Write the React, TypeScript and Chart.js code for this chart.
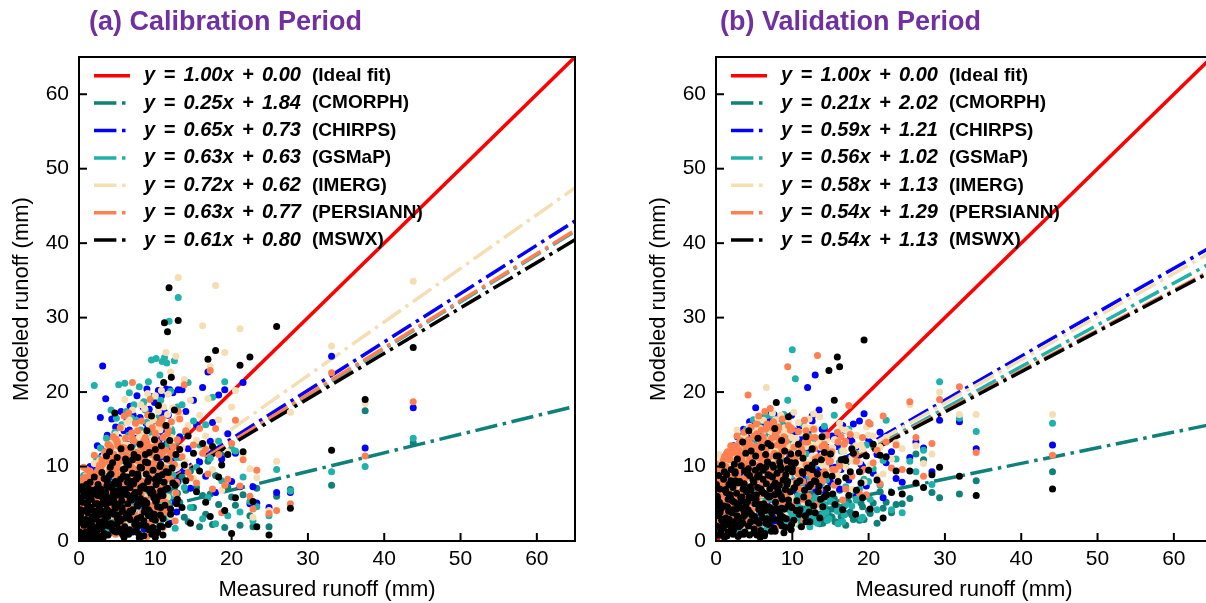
import React, { useEffect, useRef } from "react";
import { Chart, registerables } from "chart.js";

Chart.register(...registerables);

const FONT = '"Liberation Sans", Arial, Helvetica, sans-serif';

const productNames = ["CMORPH", "CHIRPS", "GSMaP", "IMERG", "PERSIANN", "MSWX"];
const productColors = ["#0F807A", "#0000FF", "#20B2AA", "#F5DEB3", "#FF7F50", "#000000"];
const idealColor = "#FF0000";
const titleColor = "#7030A0";
const tickValues = [0, 10, 20, 30, 40, 50, 60];
const axisMax = 65;

const calSlopes = [0.25, 0.65, 0.63, 0.72, 0.63, 0.61];
const calIntercepts = [1.84, 0.73, 0.63, 0.62, 0.77, 0.8];
const valSlopes = [0.21, 0.59, 0.56, 0.58, 0.54, 0.54];
const valIntercepts = [2.02, 1.21, 1.02, 1.13, 1.29, 1.13];

// ---------------- Calibration period ----------------
const calMeasured = [
  0.55, 1.05, 1.55, 2.05, 2.55, 3.05, 3.55, 4.05, 4.55, 5.05,
  5.55, 6.05, 6.55, 7.05, 7.55, 8.05, 8.55, 9.05, 9.55, 10.05,
  0.3, 0.8, 1.3, 1.8, 2.3, 2.8, 3.3, 3.8, 4.3, 4.8,
  5.3, 5.7, 6.1, 6.5, 6.9, 7.3, 7.7, 8.1, 8.5, 8.9,
  9.1, 9.4, 9.7, 10.0, 10.3, 10.6, 11.0, 11.4, 12.0, 12.6,
  0.1, 0.2, 0.3, 0.4, 0.5, 0.6, 0.7, 0.8, 0.9, 1.0,
  1.1, 1.2, 1.3, 1.4, 1.5, 1.6, 1.7, 1.8, 1.9, 2.0,
  2.1, 2.2, 2.3, 2.4, 2.5, 2.6, 2.7, 2.8, 2.9, 3.0,
  3.1, 3.2, 3.3, 3.4, 3.5, 3.6, 3.7, 3.8, 3.9, 4.0,
  4.1, 4.2, 4.3, 4.4, 4.5, 4.6, 4.7, 4.8, 4.9, 5.0,
  5.2, 5.4, 5.5, 5.6, 5.8, 5.9, 6.0, 6.1, 6.2, 6.3,
  6.4, 6.5, 6.6, 6.7, 6.8, 6.9, 7.0, 7.1, 7.2, 7.4,
  7.5, 7.6, 7.7, 7.8, 7.9, 8.0, 8.1, 8.2, 8.4, 8.5,
  8.6, 8.7, 8.8, 8.9, 9.0, 9.1, 9.2, 9.3, 9.5, 9.6,
  9.7, 9.8, 9.9, 10.0, 10.1, 10.2, 10.3, 10.4, 10.5, 10.6,
  10.7, 10.8, 10.9, 11.0, 11.1, 11.2, 11.3, 11.4, 11.5, 11.6,
  11.7, 11.8, 11.9, 12.0, 12.1, 12.3, 12.5, 12.7, 12.9, 13.0,
  13.2, 13.5, 13.8, 14.0, 14.3, 14.6, 15.0, 15.4, 15.8, 16.2,
  16.6, 16.9, 17.2, 17.5, 17.9, 18.3, 18.7, 19.1, 19.5, 20.0,
  20.5, 21.1, 21.5, 22.4, 22.8, 23.3, 24.9, 25.9, 27.7, 33.1, 37.5, 43.8,
  0.15, 0.65, 1.15, 1.65, 2.15, 2.65, 3.15, 3.65, 4.15, 4.65,
  5.15, 5.65, 6.15, 6.65, 7.15, 7.65, 8.15, 8.65, 9.15, 9.65,
  10.15, 10.65, 11.15, 0.35, 0.95, 1.45, 2.45, 3.45, 4.45, 5.45,
  6.35, 7.35, 8.35, 9.35, 10.35, 1.0, 2.0, 3.0, 4.0, 5.0,
  6.0, 7.0, 8.0, 9.0, 10.0, 11.0, 0.7, 1.7, 2.7, 3.7,
  4.7, 5.7, 6.7, 7.7, 8.7, 9.7, 10.7, 11.7, 12.2, 12.8,
  0.05, 0.4, 0.75, 1.1, 1.45, 1.8, 2.15, 2.5, 2.85, 3.2,
  3.55, 3.9, 4.25, 4.6, 4.95, 5.3, 5.65, 6.0, 6.35, 6.7,
  7.05, 7.4, 7.75, 8.1, 8.45, 8.8, 9.15, 9.5, 9.85, 10.2,
  10.55, 10.9, 11.25, 11.6, 0.2, 0.9, 1.6, 2.3, 3.0, 3.7,
  4.4, 5.1, 5.8, 6.5, 7.2, 7.9, 8.6, 9.3, 10.0, 10.7,
  0.6, 1.3, 2.0, 2.7, 3.4, 4.1, 4.8, 5.5, 6.2, 6.9,
];
const calMSWX = [
  2.8, 6.4, 4.5, 3.2, 1.9, 6.3, 4.9, 2.3, 7.7, 3.0,
  6.0, 3.1, 8.0, 4.2, 1.8, 5.7, 3.9, 6.9, 0.9, 5.3,
  4.0, 0.8, 5.9, 2.0, 0.4, 4.9, 1.0, 3.3, 5.5, 4.4,
  1.6, 4.0, 6.9, 0.9, 5.5, 2.2, 4.9, 7.2, 2.7, 5.1,
  3.4, 6.4, 1.8, 8.3, 4.6, 2.0, 6.1, 9.3, 4.3, 7.5,
  1.2, 3.5, 0.5, 5.2, 2.4, 6.0, 1.0, 4.1, 2.9, 6.6,
  0.4, 7.1, 2.2, 4.6, 0.9, 5.6, 3.2, 6.3, 1.6, 4.0,
  3.0, 6.8, 1.3, 5.0, 7.6, 2.6, 4.3, 0.6, 6.0, 3.6,
  1.9, 5.5, 8.4, 2.9, 6.5, 11.4, 4.2, 0.8, 7.3, 12.0,
  5.2, 9.0, 2.3, 10.5, 6.8, 3.6, 17.2, 8.0, 1.2, 11.2,
  7.6, 2.7, 12.4, 5.4, 9.6, 0.5, 6.3, 11.0, 3.6, 8.6,
  5.0, 10.2, 1.5, 7.2, 12.6, 3.9, 9.1, 6.1, 11.6, 2.5,
  8.3, 4.7, 11.2, 1.0, 6.6, 13.0, 3.2, 9.8, 7.4, 0.7,
  5.4, 10.6, 2.0, 14.8, 8.0, 4.2, 11.9, 6.8, 16.8, 3.0,
  9.5, 5.8, 13.6, 2.8, 7.6, 11.2, 1.2, 18.2, 6.0, 10.0,
  4.5, 12.8, 8.9, 0.8, 21.3, 29.3, 6.9, 15.5, 11.0, 28.1,
  9.2, 34.0, 13.5, 3.6, 22.0, 7.8, 17.6, 11.6, 5.6, 29.6,
  12.3, 4.5, 10.2, 8.1, 14.1, 2.4, 11.8, 6.6, 9.4, 13.1,
  5.2, 24.4, 3.3, 12.7, 25.6, 8.6, 10.2, 4.1, 11.6, 1.0,
  5.8, 23.6, 12.0, 24.7, 5.3, 1.9, 0.8, 28.8, 4.4, 12.2, 19.0, 26.0,
  5.6, 2.1, 3.8, 6.8, 0.9, 4.5, 2.6, 7.4, 3.9, 1.3,
  3.5, 6.9, 1.2, 4.0, 7.7, 3.0, 0.6, 4.4, 8.4, 3.1,
  5.4, 3.5, 7.9, 6.9, 5.1, 1.5, 6.1, 4.0, 6.2, 8.3,
  6.2, 6.5, 5.3, 1.6, 8.7, 7.6, 8.6, 9.2, 8.8, 6.7,
  9.7, 10.9, 9.9, 10.5, 12.3, 3.0, 0.2, 2.9, 1.6, 5.8,
  4.7, 0.9, 2.9, 9.0, 11.6, 6.5, 10.3, 2.2, 9.8, 5.0,
  3.0, 7.3, 2.5, 4.9, 7.9, 0.6, 5.0, 3.5, 7.0, 0.5,
  5.9, 2.0, 7.2, 5.3, 2.2, 6.6, 4.5, 1.9, 7.9, 5.7,
  1.2, 5.8, 8.6, 2.1, 5.0, 9.0, 1.5, 6.9, 3.6, 1.1,
  8.1, 1.9, 4.8, 7.1, 4.2, 1.2, 2.4, 7.0, 3.9, 8.0,
  1.5, 4.9, 8.7, 3.3, 6.0, 0.4, 7.1, 3.9, 0.5, 6.7,
  6.2, 5.5, 1.1, 4.6, 2.7, 9.9, 6.1, 2.9, 10.6, 8.0,
];
const calPERSIANN = [
  4.1, 2.0, 7.5, 5.4, 6.2, 3.0, 8.6, 6.4, 4.0, 9.8,
  2.9, 7.7, 5.3, 9.4, 6.6, 2.1, 10.2, 4.6, 7.8, 3.6,
  3.2, 5.5, 0.7, 6.8, 3.7, 1.2, 4.6, 6.2, 2.3, 0.9,
  5.6, 2.3, 4.2, 8.2, 1.5, 6.1, 9.0, 3.3, 7.0, 0.6,
  7.4, 2.5, 10.4, 4.1, 8.9, 5.6, 1.8, 3.9, 11.5, 2.7,
  2.0, 4.5, 1.5, 3.0, 5.8, 1.2, 6.3, 2.5, 4.8, 3.6,
  5.0, 2.8, 6.8, 1.0, 3.9, 7.2, 2.0, 4.4, 5.9, 0.8,
  1.6, 4.2, 8.0, 2.9, 5.5, 9.0, 3.4, 6.6, 1.9, 7.4,
  10.3, 3.4, 6.9, 11.8, 2.2, 8.5, 5.0, 13.0, 4.0, 9.6,
  7.2, 12.5, 4.4, 9.3, 14.0, 6.0, 11.0, 3.3, 8.6, 13.4,
  10.6, 15.2, 6.4, 12.0, 3.8, 16.8, 8.7, 13.8, 5.3, 11.4,
  7.8, 17.2, 12.3, 4.5, 10.1, 14.5, 21.3, 9.0, 6.5, 15.8,
  11.9, 6.9, 14.8, 9.5, 10.6, 5.2, 12.7, 16.1, 8.0, 13.5,
  10.9, 12.5, 7.4, 13.2, 16.9, 9.8, 11.8, 19.0, 6.2, 15.2,
  12.6, 8.5, 9.8, 14.5, 10.4, 11.8, 6.6, 13.0, 15.8, 9.1,
  11.5, 7.3, 16.4, 13.9, 9.6, 15.5, 5.2, 12.2, 8.5, 14.4,
  14.9, 10.8, 9.4, 8.3, 16.0, 12.7, 10.3, 6.4, 13.6, 17.4,
  16.4, 11.3, 21.0, 14.8, 9.2, 8.5, 12.9, 7.8, 15.1, 11.8,
  12.3, 9.0, 22.9, 7.0, 15.1, 11.6, 3.8, 7.5, 8.3, 13.1,
  16.2, 7.4, 10.9, 6.0, 4.3, 9.5, 3.7, 4.1, 5.0, 22.6, 11.4, 18.7,
  6.8, 3.9, 8.4, 2.5, 5.7, 9.9, 7.0, 4.1, 11.2, 6.3,
  8.9, 5.1, 11.3, 7.4, 2.8, 10.8, 6.2, 12.4, 4.5, 9.5,
  3.2, 7.9, 4.6, 8.1, 3.6, 9.2, 5.1, 7.6, 10.1, 4.0,
  10.0, 8.7, 3.9, 12.1, 6.9, 9.6, 11.5, 10.9, 12.8, 13.2,
  12.5, 13.8, 11.6, 12.8, 14.2, 6.0, 2.9, 5.6, 8.4, 7.2,
  7.7, 4.6, 6.8, 11.8, 13.9, 10.3, 12.0, 4.6, 11.9, 7.9,
  5.1, 8.3, 4.6, 7.0, 9.4, 3.0, 8.0, 6.1, 9.7, 2.2,
  7.6, 10.7, 4.9, 11.6, 8.9, 3.5, 12.6, 7.3, 10.1, 6.2,
  9.8, 3.4, 11.1, 7.9, 12.9, 5.5, 9.2, 11.6, 4.9, 13.3,
  6.3, 11.7, 9.8, 4.3, 6.9, 8.6, 3.7, 9.2, 5.7, 11.9,
  10.9, 12.8, 3.6, 9.9, 13.4, 7.6, 12.1, 9.6, 11.2, 3.9,
  9.9, 3.8, 8.8, 10.2, 12.0, 5.8, 13.7, 11.0, 7.1, 9.5,
];
const calCMORPH = [
  2.1, 2.6, 3.0, 3.4, 3.0, 3.7, 4.0, 3.6, 4.4, 4.1,
  4.3, 4.7, 4.5, 5.1, 4.9, 5.4, 5.5, 5.8, 6.0, 6.3,
  1.5, 2.0, 2.5, 3.0, 2.8, 3.5, 3.3, 3.9, 4.2, 3.0,
  3.9, 4.6, 4.2, 5.0, 4.4, 5.2, 4.8, 5.6, 5.3, 5.8,
  5.7, 6.1, 5.9, 6.5, 6.2, 7.0, 6.5, 7.2, 7.3, 8.1,
  1.8, 2.5, 2.0, 3.0, 2.2, 2.8, 1.9, 2.6, 3.1, 2.4,
  2.3, 3.3, 2.7, 3.5, 2.1, 2.9, 3.8, 2.4, 3.0, 2.6,
  3.2, 2.6, 3.6, 2.8, 3.9, 2.5, 3.1, 4.0, 2.7, 3.4,
  2.9, 3.7, 4.2, 3.1, 4.6, 3.3, 3.8, 2.8, 4.4, 3.5,
  4.0, 3.2, 4.8, 3.6, 2.9, 4.3, 5.0, 3.4, 4.1, 3.8,
  3.6, 4.5, 3.1, 4.9, 4.0, 3.3, 5.2, 3.9, 4.6, 3.5,
  4.2, 5.3, 3.8, 4.7, 5.6, 4.1, 5.0, 4.4, 5.9, 4.8,
  5.4, 4.0, 6.0, 4.6, 5.1, 6.3, 4.3, 5.7, 4.9, 6.1,
  5.0, 6.4, 4.5, 5.8, 6.7, 4.8, 5.5, 6.2, 5.2, 7.0,
  5.9, 7.2, 4.9, 6.6, 5.4, 7.5, 6.0, 5.1, 6.9, 5.7,
  6.4, 5.5, 7.7, 6.1, 7.0, 5.9, 6.7, 7.4, 6.3, 7.9,
  6.6, 7.8, 6.2, 7.3, 5.8, 8.2, 6.9, 7.6, 6.4, 8.0,
  5.2, 8.6, 3.2, 6.8, 2.6, 9.4, 4.5, 7.2, 1.9, 6.1,
  3.6, 10.7, 6.3, 2.2, 8.8, 4.9, 11.5, 1.8, 7.2, 5.9,
  4.8, 2.1, 6.2, 3.4, 1.9, 7.1, 1.9, 6.0, 6.9, 7.5, 17.5, 13.2,
  1.9, 2.2, 2.5, 2.7, 3.0, 2.8, 3.2, 3.5, 3.8, 3.4,
  4.0, 4.3, 4.6, 4.2, 5.0, 4.8, 5.3, 5.6, 5.2, 6.0,
  6.1, 6.4, 6.8, 2.0, 2.3, 2.6, 3.0, 3.3, 3.9, 4.1,
  4.5, 5.0, 5.4, 5.9, 6.3, 2.5, 2.7, 3.1, 3.8, 4.1,
  4.4, 4.9, 5.2, 5.7, 6.3, 6.6, 2.1, 2.5, 2.9, 3.4,
  3.9, 4.1, 4.6, 5.0, 5.6, 5.8, 6.5, 7.1, 7.4, 7.7,
  1.8, 2.0, 2.2, 2.4, 2.6, 2.8, 3.0, 3.2, 3.4, 3.6,
  3.8, 3.7, 4.0, 4.2, 4.4, 4.3, 4.6, 4.5, 4.8, 5.0,
  5.2, 5.0, 5.3, 5.6, 5.4, 5.8, 5.7, 6.1, 6.0, 6.3,
  6.6, 6.8, 7.0, 7.2, 1.9, 2.1, 2.5, 2.9, 3.2, 3.5,
  4.3, 4.5, 4.7, 4.9, 5.1, 5.3, 5.5, 5.7, 6.0, 6.2,
  2.2, 2.6, 2.9, 3.1, 3.3, 3.7, 4.0, 4.1, 4.4, 4.7,
];
const calCHIRPS = [
  1.9, 5.6, 2.8, 7.7, 4.5, 1.0, 6.7, 4.8, 2.0, 7.6,
  7.3, 2.4, 6.1, 1.4, 8.7, 4.4, 1.6, 7.1, 5.0, 9.6,
  5.0, 2.4, 3.6, 0.5, 6.0, 3.8, 2.4, 1.3, 7.0, 3.6,
  3.0, 6.6, 1.9, 4.5, 8.0, 3.1, 5.8, 2.1, 9.2, 4.0,
  4.1, 9.0, 3.2, 6.0, 1.3, 8.2, 3.8, 5.9, 2.6, 5.2,
  0.8, 3.0, 4.6, 1.5, 6.2, 2.0, 3.8, 5.5, 1.1, 4.0,
  3.2, 1.4, 5.3, 6.9, 2.4, 0.7, 4.8, 8.0, 3.5, 6.1,
  2.0, 9.5, 4.1, 12.8, 3.0, 6.4, 1.5, 16.6, 5.2, 10.5,
  23.5, 7.5, 3.8, 10.9, 19.1, 5.1, 14.2, 2.6, 8.8, 13.2,
  11.6, 4.6, 16.4, 7.0, 12.2, 9.9, 3.9, 15.3, 10.4, 6.3,
  13.9, 8.2, 17.4, 5.6, 11.8, 14.8, 9.5, 6.7, 12.6, 16.3,
  10.3, 6.4, 14.9, 18.1, 8.7, 12.9, 5.2, 16.9, 11.3, 7.6,
  14.3, 19.5, 8.4, 12.1, 6.0, 16.6, 10.8, 13.9, 18.0, 9.3,
  11.5, 7.7, 15.8, 20.4, 9.1, 13.3, 17.7, 5.9, 12.6, 19.4,
  14.9, 10.1, 18.6, 7.1, 16.0, 12.0, 8.8, 20.2, 13.6, 17.2,
  9.9, 19.5, 6.3, 14.4, 11.2, 17.3, 8.2, 20.4, 13.1, 15.0,
  16.9, 12.5, 20.3, 9.4, 14.7, 19.9, 11.3, 17.7, 8.0, 20.3,
  14.0, 20.3, 9.5, 17.4, 12.4, 7.1, 18.9, 15.6, 10.6, 20.6,
  8.7, 22.7, 13.4, 15.9, 6.5, 19.6, 11.0, 20.3, 14.4, 8.0,
  11.8, 7.3, 21.3, 5.0, 7.3, 5.1, 4.5, 6.5, 6.5, 24.8, 12.5, 17.9,
  3.9, 6.5, 1.4, 4.9, 7.9, 2.3, 9.6, 5.5, 3.1, 8.4,
  5.8, 9.7, 3.6, 12.0, 4.9, 7.5, 10.9, 2.5, 6.9, 11.6,
  8.6, 12.6, 6.0, 2.8, 7.4, 10.0, 4.2, 6.6, 2.5, 5.0,
  7.0, 9.9, 4.6, 8.4, 11.3, 8.1, 3.3, 11.4, 6.6, 10.6,
  11.4, 13.5, 8.0, 15.1, 10.6, 4.4, 1.8, 4.7, 3.6, 12.3,
  6.5, 3.0, 9.1, 13.1, 9.6, 11.6, 14.8, 6.0, 10.6, 3.9,
  2.4, 4.8, 6.1, 1.9, 5.3, 7.1, 2.8, 8.7, 4.0, 6.6,
  3.7, 8.5, 5.9, 2.9, 10.0, 6.0, 3.2, 11.2, 7.0, 4.5,
  6.8, 10.5, 3.4, 12.4, 8.9, 4.3, 11.6, 7.7, 13.0, 5.8,
  10.9, 5.5, 12.6, 9.0, 1.2, 5.2, 7.9, 2.1, 6.9, 9.0,
  9.3, 2.5, 6.3, 13.4, 5.1, 9.0, 3.0, 11.0, 7.5, 12.1,
  4.3, 7.9, 9.4, 5.7, 12.3, 3.5, 8.5, 10.1, 6.1, 14.0,
];
const calGSMaP = [
  3.6, 1.3, 5.9, 2.4, 7.2, 4.6, 1.7, 8.8, 5.5, 2.5,
  1.9, 6.0, 2.7, 7.0, 3.8, 8.8, 2.2, 5.2, 4.1, 3.4,
  0.4, 4.0, 2.9, 5.0, 1.6, 6.6, 5.6, 2.7, 1.1, 6.9,
  6.9, 1.2, 7.8, 3.2, 5.0, 9.8, 1.8, 6.5, 4.2, 8.0,
  2.6, 5.2, 7.0, 1.6, 3.6, 2.4, 5.6, 3.1, 6.0, 1.7,
  2.5, 6.5, 1.0, 4.2, 3.3, 5.0, 0.6, 2.2, 6.8, 1.8,
  4.0, 8.3, 1.8, 3.1, 6.0, 2.6, 7.5, 1.2, 4.9, 20.9,
  5.6, 2.3, 10.8, 4.4, 1.4, 7.9, 3.6, 12.5, 6.2, 2.9,
  6.8, 11.2, 2.6, 8.0, 4.9, 13.8, 9.4, 3.2, 12.2, 5.5,
  9.6, 17.6, 5.8, 12.8, 3.0, 10.2, 14.6, 7.4, 16.5, 4.7,
  21.0, 11.0, 7.7, 15.6, 13.2, 9.1, 21.2, 5.5, 17.4, 12.1,
  8.6, 14.2, 19.9, 6.9, 11.6, 16.5, 9.8, 13.7, 18.3, 7.2,
  16.2, 9.7, 13.0, 7.6, 20.7, 11.5, 14.9, 8.8, 12.4, 18.7,
  13.4, 17.6, 10.2, 15.9, 8.3, 21.4, 12.2, 14.6, 24.3, 9.4,
  11.0, 19.4, 7.9, 14.0, 24.5, 9.2, 16.5, 12.6, 5.0, 22.3,
  18.9, 10.3, 24.1, 6.7, 15.4, 24.6, 11.9, 8.5, 23.9, 13.7,
  12.9, 29.5, 10.4, 20.1, 15.0, 8.9, 24.2, 13.3, 18.0, 32.7,
  11.2, 18.3, 7.2, 14.6, 21.3, 4.5, 16.1, 9.9, 12.9, 3.0,
  15.6, 5.8, 11.1, 19.3, 2.3, 13.4, 8.1, 21.4, 3.4, 12.4,
  12.1, 3.9, 8.6, 5.3, 2.7, 4.6, 3.4, 9.6, 6.7, 9.3, 10.0, 13.8,
  2.7, 0.8, 5.3, 3.5, 4.4, 8.6, 1.5, 6.0, 10.3, 4.6,
  7.6, 3.2, 9.3, 5.8, 11.8, 1.9, 8.5, 6.9, 3.5, 10.4,
  5.9, 2.6, 9.7, 4.9, 1.3, 6.3, 9.5, 3.7, 7.8, 2.0,
  3.6, 11.0, 7.4, 5.1, 2.9, 9.0, 6.8, 5.4, 11.6, 8.3,
  8.4, 12.3, 14.5, 7.8, 13.2, 9.1, 3.4, 1.6, 5.0, 9.9,
  10.6, 6.6, 4.2, 9.9, 7.4, 13.9, 8.2, 5.1, 14.6, 11.2,
  6.1, 2.6, 3.9, 6.9, 1.8, 5.1, 7.7, 2.5, 5.6, 9.0,
  4.2, 6.3, 9.4, 3.0, 7.6, 5.4, 10.8, 3.9, 6.0, 8.6,
  8.2, 2.7, 12.0, 6.4, 9.8, 3.3, 7.1, 10.6, 4.7, 8.9,
  3.9, 8.8, 6.5, 12.9, 5.8, 3.5, 8.6, 5.0, 1.9, 4.5,
  5.1, 10.0, 7.0, 4.4, 11.9, 6.1, 9.6, 2.1, 8.1, 5.5,
  8.8, 6.5, 3.4, 11.1, 7.8, 5.9, 12.9, 9.2, 4.0, 11.7,
];
const calIMERG = [
  4.6, 1.7, 3.5, 6.9, 2.0, 5.6, 3.0, 6.2, 1.6, 5.7,
  3.6, 5.4, 1.9, 4.1, 9.6, 3.5, 6.8, 2.3, 8.0, 4.9,
  2.3, 3.0, 4.2, 1.4, 5.4, 2.6, 7.2, 4.8, 3.9, 1.8,
  4.8, 8.1, 2.8, 6.0, 3.5, 7.3, 2.9, 8.8, 5.6, 3.0,
  6.9, 3.9, 5.1, 9.4, 2.8, 7.6, 4.6, 8.4, 3.3, 6.4,
  1.5, 2.8, 5.0, 0.9, 3.8, 4.4, 2.1, 6.0, 1.3, 5.3,
  2.6, 4.9, 1.1, 6.4, 3.4, 2.0, 5.7, 3.0, 7.0, 1.9,
  4.4, 7.2, 2.5, 9.0, 5.1, 3.2, 8.4, 1.8, 6.9, 10.2,
  8.0, 2.9, 11.5, 5.8, 9.7, 3.9, 12.8, 7.0, 4.6, 10.7,
  6.4, 10.6, 13.2, 4.2, 11.9, 8.8, 5.3, 14.3, 7.9, 12.6,
  9.3, 13.6, 5.9, 15.2, 11.1, 7.4, 19.0, 12.4, 8.3, 15.9,
  12.9, 7.8, 16.3, 10.5, 13.8, 6.6, 17.6, 11.2, 9.0, 14.7,
  10.4, 15.7, 7.2, 12.0, 13.9, 9.7, 18.3, 11.8, 14.4, 8.6,
  17.8, 9.5, 14.6, 12.5, 19.8, 11.0, 15.6, 7.9, 13.3, 16.7,
  13.8, 16.2, 10.9, 19.5, 8.2, 15.3, 12.1, 17.4, 9.7, 14.9,
  12.4, 20.2, 9.1, 15.7, 18.0, 11.5, 14.1, 25.3, 10.6, 17.0,
  19.7, 15.5, 11.8, 22.7, 13.9, 17.9, 10.1, 24.8, 16.6, 35.4,
  17.1, 12.6, 21.7, 10.0, 15.5, 18.9, 8.4, 13.5, 16.9, 28.9,
  14.1, 19.1, 23.4, 9.6, 34.3, 16.3, 6.8, 25.3, 12.0, 18.0,
  20.2, 28.5, 11.6, 9.7, 3.2, 8.5, 4.1, 10.7, 17.3, 26.2, 18.5, 34.9,
  6.1, 4.7, 2.3, 8.9, 3.3, 5.8, 10.7, 2.1, 7.1, 9.3,
  2.5, 8.3, 6.4, 10.6, 4.2, 12.1, 3.8, 9.1, 7.2, 5.5,
  10.2, 6.8, 4.1, 5.2, 8.8, 3.5, 2.3, 9.8, 5.4, 6.8,
  8.1, 4.4, 9.9, 6.4, 12.0, 6.0, 10.4, 7.7, 9.5, 12.4,
  12.9, 9.5, 12.8, 11.7, 9.0, 7.4, 4.3, 6.2, 10.8, 3.2,
  5.3, 7.7, 11.6, 8.2, 10.2, 3.9, 12.6, 7.5, 13.3, 9.8,
  3.9, 5.8, 1.9, 3.1, 6.5, 4.6, 1.6, 7.7, 3.6, 4.8,
  7.7, 4.3, 3.4, 9.8, 5.0, 8.0, 2.6, 6.5, 11.1, 3.7,
  4.2, 9.2, 6.9, 11.7, 3.8, 8.4, 13.0, 5.3, 10.3, 7.7,
  12.4, 7.3, 10.5, 5.9, 2.8, 7.2, 5.0, 4.4, 8.4, 6.0,
  11.5, 6.6, 9.9, 8.4, 2.6, 12.5, 5.9, 9.0, 13.1, 4.4,
  2.0, 9.0, 7.4, 5.5, 9.1, 11.6, 4.2, 12.7, 9.4, 6.9,
];

// ---------------- Validation period ----------------
const valMeasured = [
  0.45, 0.85, 1.25, 1.65, 2.05, 2.45, 2.85, 3.25, 3.65, 4.05,
  4.45, 4.85, 5.25, 5.65, 6.05, 6.45, 6.85, 7.25, 7.65, 8.45,
  0.25, 0.65, 1.05, 1.45, 1.85, 2.25, 2.65, 3.05, 3.45, 3.85,
  4.25, 4.65, 5.05, 5.45, 5.85, 6.25, 6.65, 7.05, 7.45, 7.85,
  8.25, 8.65, 9.05, 9.45, 9.85, 10.3, 10.9, 11.5, 12.3, 13.1,
  0.1, 0.2, 0.3, 0.4, 0.5, 0.6, 0.7, 0.8, 0.9, 1.0,
  1.1, 1.2, 1.3, 1.4, 1.5, 1.6, 1.7, 1.8, 1.9, 2.0,
  2.1, 2.2, 2.3, 2.4, 2.5, 2.6, 2.7, 2.8, 2.9, 3.0,
  3.1, 3.2, 3.3, 3.4, 3.5, 3.6, 3.7, 3.8, 3.9, 4.0,
  4.1, 4.2, 4.3, 4.4, 4.5, 4.6, 4.7, 4.8, 4.9, 5.0,
  5.1, 5.2, 5.3, 5.4, 5.5, 5.6, 5.7, 5.8, 5.9, 6.0,
  6.1, 6.2, 6.3, 6.4, 6.5, 6.6, 6.7, 6.8, 6.9, 7.0,
  7.1, 7.2, 7.3, 7.4, 7.5, 7.6, 7.7, 7.8, 7.9, 8.0,
  8.1, 8.2, 8.3, 8.4, 8.5, 8.6, 8.7, 8.8, 8.9, 9.0,
  9.1, 9.2, 9.3, 9.4, 9.5, 9.6, 9.8, 9.9, 10.0, 10.2,
  10.4, 10.6, 10.8, 11.0, 11.2, 11.4, 11.6, 11.8, 12.0, 12.2,
  12.4, 12.6, 12.8, 13.0, 13.3, 13.6, 13.9, 14.2, 14.5, 14.8,
  15.2, 15.5, 15.9, 16.2, 16.6, 17.0, 17.4, 17.8, 18.3, 18.8,
  19.2, 19.4, 19.7, 20.2, 20.6, 21.1, 21.5, 21.9, 22.3, 23.0,
  23.6, 24.4, 25.4, 26.2, 27.2, 28.3, 29.3, 31.9, 34.1, 44.1,
  0.15, 0.55, 0.95, 1.35, 1.75, 2.15, 2.55, 2.95, 3.35, 3.75,
  4.15, 4.55, 4.95, 5.35, 5.75, 6.15, 6.55, 6.95, 7.35, 7.75,
  8.15, 8.55, 8.95, 9.35, 9.75, 10.5, 11.3, 12.1, 12.9, 13.7,
  0.35, 1.15, 1.95, 2.75, 3.55, 4.35, 5.15, 5.95, 6.75, 7.55,
  8.35, 9.15, 9.95, 10.8, 11.7, 12.6, 13.5, 14.4, 15.3, 16.4,
  14.0, 15.0, 16.0, 17.0, 18.0, 19.0, 20.0, 0.8, 1.6, 2.4,
  0.05, 0.4, 0.75, 1.1, 1.45, 1.8, 2.15, 2.5, 2.85, 3.2,
  3.55, 3.9, 4.25, 4.6, 4.95, 5.3, 5.65, 6.0, 6.35, 6.7,
  7.05, 7.4, 7.75, 8.1, 8.45, 8.8, 9.15, 9.5, 9.85, 10.2,
  10.6, 11.0, 11.4, 11.8, 12.2, 12.6, 13.0, 13.4, 13.8, 14.2,
  0.2, 0.9, 1.6, 2.3, 3.0, 3.7, 4.4, 5.1, 5.8, 6.5,
  7.2, 7.9, 8.6, 9.3, 10.0, 14.6, 15.6, 16.8, 17.6, 18.4,
];
const valMSWX = [
  5.2, 2.9, 6.9, 4.0, 1.7, 7.8, 3.0, 5.8, 0.9, 6.8,
  3.8, 8.2, 5.6, 2.4, 6.6, 4.1, 8.9, 1.3, 6.2, 3.5,
  3.4, 1.0, 4.7, 2.2, 6.2, 0.9, 4.3, 2.6, 5.4, 3.6,
  2.0, 5.8, 3.3, 7.2, 1.4, 5.0, 3.0, 7.0, 2.9, 4.4,
  6.3, 2.0, 8.4, 4.7, 1.5, 7.2, 3.6, 5.9, 2.6, 8.0,
  2.0, 5.5, 0.8, 3.6, 7.0, 1.5, 4.4, 10.2, 2.6, 8.3,
  0.5, 6.8, 3.1, 8.9, 4.6, 1.2, 7.6, 2.4, 5.8, 9.6,
  3.8, 7.2, 1.4, 5.2, 9.3, 2.7, 6.4, 11.0, 0.6, 4.8,
  8.0, 2.1, 10.1, 5.9, 13.3, 3.3, 7.7, 1.2, 11.8, 6.6,
  9.1, 4.2, 14.8, 0.8, 7.3, 12.1, 3.5, 10.5, 6.0, 1.6,
  5.0, 11.4, 2.7, 8.6, 13.8, 4.3, 9.9, 0.5, 7.0, 12.6,
  3.1, 9.5, 6.4, 1.0, 11.6, 7.7, 4.6, 13.1, 2.2, 8.8,
  6.0, 12.8, 3.8, 10.2, 7.4, 1.7, 15.1, 5.2, 18.6, 9.1,
  4.0, 11.4, 7.5, 2.5, 9.6, 13.5, 5.6, 8.2, 1.1, 12.1,
  6.9, 3.0, 10.8, 8.0, 16.7, 4.8, 11.7, 2.2, 9.3, 7.1,
  10.5, 5.4, 13.0, 8.1, 1.9, 11.1, 6.8, 14.0, 9.8, 3.9,
  7.6, 12.4, 4.7, 10.6, 9.0, 3.1, 14.0, 11.9, 6.2, 22.9,
  8.7, 18.9, 24.7, 23.4, 4.2, 10.8, 6.1, 12.4, 3.6, 9.3,
  5.8, 27.0, 11.4, 4.3, 13.0, 8.2, 11.5, 3.1, 11.3, 6.5,
  9.4, 6.3, 9.4, 7.8, 7.2, 8.9, 9.9, 8.7, 6.1, 7.0,
  6.0, 3.9, 1.7, 6.5, 2.9, 5.4, 8.1, 1.9, 4.4, 9.4,
  5.3, 2.6, 7.9, 0.8, 4.9, 8.3, 2.4, 5.9, 3.9, 7.8,
  2.9, 6.0, 4.3, 9.7, 6.6, 4.1, 9.3, 5.1, 8.1, 5.6,
  8.8, 0.6, 8.1, 3.4, 7.0, 5.9, 9.5, 3.7, 10.6, 9.9,
  10.6, 1.8, 4.5, 11.8, 3.4, 10.2, 7.4, 8.9, 6.3, 10.9,
  4.6, 11.7, 8.0, 8.5, 11.8, 7.8, 9.5, 4.7, 2.4, 10.3,
  7.6, 4.6, 2.8, 9.3, 0.7, 6.0, 4.2, 9.1, 5.0, 0.9,
  2.4, 4.8, 9.7, 6.8, 1.1, 6.2, 8.9, 4.8, 0.7, 6.1,
  4.5, 8.6, 1.3, 6.8, 10.0, 3.2, 8.9, 5.5, 10.5, 2.8,
  7.8, 4.2, 9.1, 2.6, 7.3, 9.6, 3.8, 6.6, 10.9, 5.9,
  5.8, 1.9, 5.6, 2.2, 7.8, 3.9, 8.8, 3.0, 10.0, 9.9,
  3.0, 11.4, 4.4, 7.6, 9.8, 7.1, 4.9, 11.0, 9.3, 6.8,
];
const valPERSIANN = [
  3.5, 7.9, 2.3, 6.1, 9.0, 4.3, 5.4, 9.9, 6.8, 2.6,
  8.6, 5.4, 2.0, 10.2, 3.5, 11.0, 6.1, 8.0, 11.8, 7.7,
  2.2, 6.0, 1.4, 4.8, 3.2, 7.4, 1.9, 6.5, 3.9, 8.5,
  6.2, 3.4, 9.0, 2.5, 7.1, 4.0, 9.6, 3.0, 6.7, 1.8,
  3.6, 8.8, 5.2, 1.9, 10.0, 4.2, 7.0, 2.8, 9.1, 4.9,
  4.0, 1.2, 6.5, 8.0, 2.8, 5.2, 7.4, 1.0, 9.3, 3.4,
  7.8, 3.6, 10.0, 5.4, 12.0, 2.1, 8.7, 11.3, 6.4, 4.2,
  9.2, 12.4, 5.0, 7.3, 10.6, 3.0, 12.8, 6.0, 8.5, 11.6,
  5.9, 13.5, 8.2, 11.0, 3.6, 9.8, 14.6, 7.0, 12.2, 4.8,
  10.4, 19.6, 6.8, 13.0, 9.0, 15.3, 4.1, 11.8, 7.6, 14.0,
  12.7, 8.1, 15.7, 5.5, 11.2, 16.8, 9.4, 13.6, 6.3, 10.8,
  7.7, 14.0, 10.5, 17.4, 5.0, 12.4, 15.7, 8.6, 13.1, 11.3,
  17.8, 9.2, 13.8, 6.9, 16.0, 11.7, 4.6, 14.5, 8.4, 12.9,
  10.5, 15.3, 7.3, 13.2, 11.4, 5.2, 16.4, 9.0, 14.0, 12.0,
  8.2, 13.4, 10.4, 23.4, 6.6, 11.9, 15.2, 9.7, 4.8, 12.6,
  11.1, 7.8, 14.7, 9.4, 12.4, 5.6, 16.2, 10.2, 13.3, 7.2,
  13.9, 8.6, 15.0, 11.0, 24.9, 6.9, 12.7, 9.3, 14.2, 10.6,
  12.0, 7.5, 14.6, 10.1, 5.5, 13.4, 18.2, 8.7, 11.6, 6.4,
  13.9, 9.6, 6.2, 15.7, 10.5, 12.2, 7.7, 16.8, 13.3, 9.8,
  12.9, 9.6, 18.7, 13.9, 8.7, 13.1, 19.0, 20.7, 11.9, 11.5,
  9.6, 7.1, 10.8, 3.1, 11.5, 8.2, 4.6, 12.3, 10.4, 5.6,
  12.9, 10.4, 8.3, 14.4, 11.6, 3.8, 13.0, 10.3, 15.2, 5.9,
  9.2, 11.8, 13.7, 6.4, 14.9, 8.0, 12.0, 6.0, 12.4, 9.0,
  6.8, 11.4, 12.8, 14.1, 7.9, 12.6, 9.9, 14.9, 9.1, 15.9,
  13.6, 7.7, 11.2, 9.0, 13.3, 7.4, 11.1, 12.5, 9.6, 14.0,
  8.1, 10.7, 13.3, 7.0, 11.8, 9.3, 15.9, 8.4, 11.2, 12.7,
  10.3, 8.9, 6.1, 11.2, 4.4, 10.9, 7.9, 12.6, 9.1, 6.0,
  8.0, 11.9, 13.6, 5.1, 14.1, 9.7, 12.2, 4.1, 13.4, 8.7,
  13.2, 6.3, 11.4, 14.8, 8.3, 12.8, 6.2, 15.5, 10.3, 11.0,
  9.5, 12.9, 8.0, 14.8, 10.2, 7.9, 13.9, 11.3, 8.8, 13.0,
  7.5, 4.0, 8.9, 11.9, 9.8, 13.0, 11.0, 13.9, 12.9, 15.0,
  9.9, 14.0, 12.5, 10.6, 15.0, 11.2, 9.6, 13.0, 14.3, 10.7,
];
const valCMORPH = [
  2.2, 2.5, 2.8, 3.0, 3.3, 3.1, 3.5, 3.7, 3.4, 4.0,
  4.2, 4.4, 4.6, 4.4, 4.8, 5.2, 4.9, 5.5, 5.7, 5.3,
  2.0, 2.3, 2.6, 2.8, 3.1, 3.3, 3.6, 3.2, 3.9, 3.5,
  3.9, 4.5, 4.1, 4.7, 4.3, 5.0, 4.6, 5.3, 4.9, 5.6,
  5.4, 5.9, 5.1, 6.2, 5.6, 6.4, 3.1, 4.0, 2.4, 3.3,
  1.9, 2.6, 2.2, 3.0, 1.8, 2.9, 2.4, 3.3, 2.1, 2.7,
  2.5, 3.1, 2.0, 3.6, 2.8, 3.4, 2.3, 3.8, 3.0, 2.6,
  3.3, 2.7, 3.9, 2.9, 3.6, 2.5, 4.1, 3.1, 3.7, 2.8,
  3.5, 4.0, 3.0, 4.4, 3.7, 3.2, 4.6, 3.9, 3.4, 4.2,
  3.8, 4.5, 3.3, 4.9, 4.1, 3.6, 5.2, 4.0, 4.7, 3.5,
  4.4, 3.9, 5.0, 4.2, 5.5, 3.7, 4.8, 4.3, 5.7, 4.0,
  4.9, 5.4, 4.1, 5.9, 4.6, 5.1, 6.1, 4.5, 5.6, 4.8,
  5.3, 4.7, 5.8, 5.0, 6.2, 5.5, 4.8, 6.4, 5.1, 5.9,
  5.6, 6.3, 4.9, 6.0, 5.3, 6.8, 5.0, 6.5, 5.7, 4.6,
  6.2, 5.4, 6.7, 4.3, 5.9, 7.0, 5.1, 6.5, 4.7, 6.0,
  5.2, 6.6, 4.4, 7.1, 5.8, 6.9, 4.9, 7.4, 6.1, 5.5,
  6.3, 3.9, 7.2, 4.8, 5.4, 2.3, 6.6, 3.6, 5.9, 4.2,
  3.2, 5.7, 2.5, 6.8, 4.0, 2.1, 5.2, 3.5, 6.3, 2.8,
  4.6, 2.9, 6.0, 3.7, 5.1, 2.4, 6.6, 4.4, 5.2, 3.8,
  4.9, 5.0, 5.7, 11.7, 10.9, 6.5, 5.8, 6.3, 8.1, 9.3,
  2.0, 2.3, 2.5, 2.8, 3.0, 3.2, 3.4, 2.9, 3.6, 3.8,
  4.0, 4.3, 3.9, 4.6, 4.4, 4.9, 5.1, 4.7, 5.4, 5.0,
  5.5, 5.8, 6.0, 5.3, 6.4, 4.1, 3.2, 5.0, 2.7, 3.6,
  2.1, 2.6, 3.1, 3.5, 3.3, 4.0, 4.3, 4.7, 5.0, 5.5,
  5.8, 6.3, 6.9, 4.5, 6.0, 3.0, 5.5, 2.8, 4.3, 3.3,
  2.4, 3.3, 4.6, 3.7, 2.9, 5.1, 4.1, 2.4, 2.7, 3.0,
  2.0, 2.2, 2.4, 2.6, 2.8, 3.0, 3.1, 3.3, 3.5, 3.6,
  3.7, 3.9, 4.1, 4.3, 4.5, 4.7, 4.9, 5.0, 5.2, 5.4,
  5.5, 5.7, 5.9, 6.0, 6.2, 4.4, 6.5, 5.1, 6.7, 4.5,
  5.4, 4.7, 6.1, 3.3, 5.9, 4.0, 6.4, 3.1, 5.6, 4.5,
  2.1, 2.4, 2.7, 3.0, 3.4, 3.6, 4.0, 4.2, 4.5, 4.9,
  5.3, 5.6, 5.9, 6.2, 6.6, 3.3, 2.6, 4.7, 3.9, 5.5,
];
const valCHIRPS = [
  2.2, 5.9, 4.2, 8.9, 3.5, 6.8, 2.0, 7.5, 5.1, 9.3,
  7.4, 2.8, 10.9, 6.0, 3.1, 8.0, 11.9, 5.1, 2.2, 9.9,
  4.7, 2.9, 7.3, 1.0, 5.7, 3.4, 8.2, 4.4, 1.7, 6.4,
  3.0, 8.9, 1.9, 5.2, 9.9, 2.6, 6.6, 4.0, 10.6, 3.3,
  7.9, 4.0, 10.1, 2.9, 6.4, 9.0, 4.8, 8.1, 3.6, 6.9,
  3.2, 7.0, 1.6, 5.0, 9.5, 2.7, 6.1, 4.0, 8.6, 1.2,
  6.0, 11.0, 3.8, 8.0, 2.2, 10.2, 5.2, 7.3, 12.3, 4.6,
  8.4, 3.6, 12.8, 6.3, 1.8, 9.7, 4.8, 14.0, 7.6, 10.9,
  13.2, 5.8, 9.5, 3.1, 11.8, 15.0, 7.1, 10.6, 4.3, 14.1,
  6.2, 14.6, 10.3, 16.0, 4.4, 8.6, 12.9, 15.5, 2.7, 9.8,
  12.5, 17.9, 7.5, 11.3, 3.6, 14.2, 9.2, 16.6, 5.4, 13.4,
  10.6, 6.8, 15.4, 12.1, 8.1, 17.0, 4.7, 13.7, 11.0, 16.0,
  13.0, 16.9, 7.7, 14.3, 10.0, 17.0, 5.9, 12.5, 16.4, 8.7,
  15.0, 9.6, 13.1, 6.3, 16.8, 11.5, 8.3, 14.6, 10.7, 4.7,
  12.0, 7.2, 15.6, 9.9, 13.8, 5.6, 11.1, 16.9, 8.5, 14.3,
  6.9, 13.3, 9.7, 15.4, 11.8, 7.6, 14.2, 12.0, 20.6, 10.3,
  11.9, 16.8, 8.0, 22.3, 13.1, 9.5, 15.0, 6.8, 12.6, 10.3,
  14.1, 9.5, 12.7, 7.0, 15.5, 11.0, 8.2, 13.4, 6.4, 16.1,
  10.0, 17.1, 7.4, 13.2, 9.1, 11.6, 14.6, 5.8, 10.5, 12.0,
  8.4, 7.9, 11.2, 13.3, 12.5, 9.3, 16.2, 16.0, 12.4, 12.9,
  8.0, 5.3, 3.4, 10.4, 7.1, 1.9, 11.2, 9.0, 6.2, 3.2,
  11.9, 7.3, 13.9, 9.3, 5.6, 12.3, 3.6, 15.4, 7.9, 11.0,
  12.7, 8.6, 14.4, 11.5, 6.9, 13.0, 10.9, 14.8, 9.3, 12.2,
  10.1, 8.8, 6.0, 11.7, 9.0, 12.2, 14.6, 10.2, 13.8, 11.4,
  9.1, 13.2, 10.8, 14.7, 12.3, 8.8, 17.6, 11.9, 14.0, 9.6,
  11.2, 7.9, 14.3, 11.0, 15.7, 10.3, 13.6, 6.6, 11.8, 7.1,
  4.3, 9.7, 6.8, 3.2, 8.3, 4.6, 10.5, 6.3, 2.3, 11.1,
  9.6, 12.1, 4.6, 13.5, 7.4, 10.2, 15.0, 6.4, 11.9, 8.5,
  14.4, 10.6, 7.3, 11.9, 15.9, 8.1, 13.6, 10.4, 6.8, 14.8,
  11.4, 13.6, 8.8, 14.0, 12.3, 16.1, 9.9, 13.3, 11.7, 15.1,
  2.7, 6.7, 9.0, 4.9, 12.0, 8.6, 5.9, 13.3, 9.4, 12.7,
  11.1, 15.6, 10.2, 13.2, 12.8, 12.0, 9.9, 14.9, 13.7, 11.1,
];
const valGSMaP = [
  6.4, 1.8, 5.2, 3.4, 8.0, 2.1, 7.1, 4.2, 10.1, 3.7,
  2.9, 10.6, 4.5, 7.4, 11.0, 5.9, 3.2, 12.3, 8.6, 5.8,
  1.3, 5.0, 3.0, 6.6, 2.0, 4.7, 5.9, 1.5, 7.2, 2.8,
  7.1, 2.0, 6.0, 9.7, 3.6, 8.3, 1.6, 5.6, 3.9, 7.7,
  4.4, 9.8, 2.6, 7.0, 3.8, 5.1, 2.2, 3.4, 1.9, 2.6,
  5.6, 3.0, 8.4, 1.1, 4.8, 7.7, 2.0, 6.3, 3.7, 6.9,
  9.0, 2.6, 6.6, 11.8, 4.0, 8.5, 1.7, 10.6, 3.2, 7.2,
  4.6, 10.2, 7.6, 2.3, 12.2, 6.0, 9.0, 3.8, 11.5, 5.4,
  7.9, 12.7, 4.8, 10.4, 14.2, 6.8, 2.9, 12.0, 9.4, 15.0,
  12.8, 8.4, 14.9, 5.6, 10.9, 3.9, 13.5, 7.2, 16.3, 11.2,
  9.6, 14.3, 4.4, 13.0, 8.1, 11.7, 16.0, 6.1, 12.4, 2.4,
  15.1, 10.0, 5.7, 13.9, 16.8, 3.0, 11.5, 7.6, 14.7, 9.2,
  11.2, 6.6, 16.9, 9.0, 13.4, 4.3, 15.5, 10.8, 6.2, 14.0,
  5.4, 12.6, 16.5, 8.5, 3.7, 15.7, 11.0, 2.6, 17.0, 9.7,
  13.1, 6.0, 10.1, 18.9, 2.2, 14.6, 8.7, 12.1, 25.7, 3.5,
  21.8, 9.3, 4.6, 12.4, 7.4, 15.7, 3.0, 11.7, 5.8, 14.1,
  9.5, 5.2, 13.8, 7.8, 2.4, 11.0, 4.5, 15.4, 8.2, 3.0,
  6.2, 16.9, 4.0, 10.5, 2.6, 7.3, 15.0, 4.7, 11.8, 7.0,
  3.2, 8.3, 12.9, 5.6, 9.7, 4.2, 7.5, 10.8, 16.2, 4.2,
  11.0, 3.8, 10.7, 9.3, 12.2, 7.6, 21.4, 16.5, 14.7, 15.8,
  3.6, 9.4, 6.7, 5.0, 1.4, 10.9, 4.1, 8.3, 12.7, 6.4,
  4.2, 13.0, 7.8, 10.7, 15.0, 6.8, 12.0, 3.3, 10.2, 13.9,
  10.7, 4.9, 8.4, 14.0, 12.9, 3.2, 6.6, 4.4, 10.1, 5.0,
  7.9, 10.2, 12.7, 9.2, 11.1, 8.3, 6.9, 14.0, 11.9, 7.4,
  12.8, 8.1, 3.9, 6.1, 9.4, 2.6, 5.3, 3.9, 5.2, 12.1,
  3.6, 5.4, 2.3, 4.9, 6.8, 3.0, 8.0, 10.4, 7.0, 12.0,
  9.0, 2.5, 7.7, 5.5, 10.8, 3.1, 6.4, 4.0, 9.6, 7.5,
  12.3, 6.7, 10.2, 3.6, 12.8, 8.9, 5.0, 13.8, 9.8, 3.9,
  7.2, 13.6, 10.4, 5.2, 9.2, 14.5, 6.4, 3.4, 11.9, 2.9,
  4.5, 2.6, 6.9, 4.0, 8.6, 3.4, 5.9, 2.9, 7.7, 4.9,
  4.0, 7.8, 2.7, 9.5, 6.1, 13.3, 8.0, 11.2, 6.3, 10.9,
  10.0, 6.4, 12.7, 5.6, 13.5, 2.8, 4.9, 3.5, 6.5, 5.6,
];
const valIMERG = [
  3.0, 6.6, 8.4, 1.8, 5.6, 9.4, 4.0, 6.8, 2.7, 8.1,
  9.3, 3.7, 7.0, 12.6, 4.6, 6.4, 2.5, 11.8, 5.9, 10.4,
  5.9, 3.8, 2.1, 7.6, 4.4, 6.2, 3.0, 8.4, 5.0, 1.9,
  4.0, 6.9, 2.6, 8.0, 5.2, 3.1, 7.9, 10.1, 4.7, 6.5,
  9.0, 5.8, 3.4, 8.7, 6.0, 2.4, 8.5, 5.2, 7.5, 4.4,
  1.4, 4.5, 3.3, 6.7, 2.0, 9.0, 5.4, 2.9, 7.1, 4.2,
  3.5, 8.2, 11.4, 2.5, 7.0, 5.6, 9.9, 4.1, 12.6, 6.0,
  10.8, 6.0, 8.9, 12.0, 4.4, 11.2, 7.3, 9.6, 3.0, 13.0,
  9.9, 4.5, 13.8, 7.9, 10.3, 12.4, 5.5, 14.2, 8.6, 11.1,
  13.3, 7.7, 11.5, 15.4, 6.6, 9.4, 12.8, 4.6, 14.5, 10.0,
  7.4, 14.9, 10.7, 5.0, 16.5, 8.8, 12.2, 15.1, 11.4, 6.2,
  12.6, 16.2, 8.2, 13.6, 10.9, 20.6, 7.0, 15.0, 12.0, 9.5,
  14.8, 10.6, 12.9, 17.2, 8.1, 13.7, 11.1, 16.3, 9.8, 15.6,
  11.9, 6.2, 14.2, 10.3, 16.9, 8.6, 13.0, 11.6, 5.0, 15.2,
  9.4, 14.7, 7.6, 12.6, 16.1, 10.7, 5.3, 13.9, 11.2, 17.3,
  13.2, 8.9, 15.9, 11.3, 6.9, 14.6, 10.4, 12.7, 9.2, 16.4,
  15.2, 10.2, 17.1, 12.9, 8.0, 16.7, 11.5, 14.0, 13.6, 9.1,
  11.3, 13.6, 8.8, 15.8, 12.1, 9.9, 14.6, 6.9, 12.8, 10.6,
  12.4, 7.9, 15.3, 10.2, 14.1, 8.6, 12.6, 9.0, 13.9, 11.0,
  13.2, 12.4, 18.3, 12.8, 10.4, 11.7, 20.0, 17.0, 17.0, 17.0,
  7.3, 2.1, 9.6, 4.3, 8.7, 11.9, 6.0, 3.1, 10.2, 7.8,
  8.4, 14.7, 4.9, 11.9, 9.0, 13.9, 6.2, 12.4, 14.8, 8.7,
  11.7, 14.0, 9.2, 12.8, 7.8, 13.8, 11.8, 10.6, 14.9, 12.6,
  11.0, 6.4, 8.6, 14.9, 12.0, 7.3, 11.6, 9.2, 15.3, 13.2,
  14.5, 9.7, 12.3, 10.8, 15.3, 11.2, 13.2, 10.0, 12.5, 15.0,
  10.1, 12.5, 9.6, 14.9, 10.7, 12.9, 14.2, 8.0, 6.3, 11.5,
  6.3, 11.6, 4.8, 7.2, 3.9, 9.8, 12.5, 5.7, 8.2, 10.7,
  5.8, 9.4, 13.1, 10.5, 7.3, 14.4, 4.8, 11.7, 8.2, 12.9,
  10.9, 6.9, 15.2, 12.4, 8.9, 13.9, 10.1, 15.0, 7.4, 12.9,
  12.1, 10.2, 14.5, 9.9, 12.9, 11.4, 15.1, 10.5, 13.8, 12.2,
  8.2, 5.4, 10.7, 6.6, 9.7, 4.8, 13.0, 7.6, 13.5, 11.8,
  13.9, 12.3, 9.2, 14.6, 11.6, 11.6, 13.6, 12.1, 10.8, 14.2,
];

const calModeled = [calCMORPH, calCHIRPS, calGSMaP, calIMERG, calPERSIANN, calMSWX];
const valModeled = [valCMORPH, valCHIRPS, valGSMaP, valIMERG, valPERSIANN, valMSWX];

const DASH_DOT = [22.4, 5.6, 3.5, 5.6];

function fmtEq(a: number, b: number) {
  return `y = ${a.toFixed(2)}x + ${b.toFixed(2)}`;
}

function toPoints(xs: number[], ys: number[]) {
  const n = Math.min(xs.length, ys.length);
  const out: { x: number; y: number }[] = [];
  for (let i = 0; i < n; i++) out.push({ x: xs[i], y: ys[i] });
  return out;
}

type PanelProps = {
  left: number;
  title: string;
  titleX: number;
  measured: number[];
  modeled: number[][];
  slopes: number[];
  intercepts: number[];
};

function buildConfig(p: PanelProps): any {
  const datasets: any[] = [];
  productNames.forEach((name, i) => {
    datasets.push({
      label: name,
      data: toPoints(p.measured, p.modeled[i]),
      showLine: false,
      pointRadius: 3.5,
      pointHoverRadius: 3.5,
      pointBorderWidth: 0,
      borderWidth: 0,
      backgroundColor: productColors[i],
      borderColor: productColors[i],
      order: 6 - i,
    });
  });
  datasets.push({
    label: "Ideal fit",
    data: [
      { x: 0, y: 0 },
      { x: axisMax, y: axisMax },
    ],
    showLine: true,
    pointRadius: 0,
    borderWidth: 3.5,
    borderColor: idealColor,
    backgroundColor: idealColor,
    order: 7,
  });
  productNames.forEach((name, i) => {
    const a = p.slopes[i];
    const b = p.intercepts[i];
    datasets.push({
      label: name + " fit",
      data: [
        { x: 0, y: b },
        { x: axisMax, y: a * axisMax + b },
      ],
      showLine: true,
      pointRadius: 0,
      borderWidth: 3.5,
      borderDash: DASH_DOT,
      borderCapStyle: "butt",
      borderColor: productColors[i],
      backgroundColor: productColors[i],
      order: 8 + (5 - i),
    });
  });

  const entries = [
    { color: idealColor, dash: [] as number[], eq: fmtEq(1, 0), label: "(Ideal fit)" },
    ...productNames.map((name, i) => ({
      color: productColors[i],
      dash: DASH_DOT,
      eq: fmtEq(p.slopes[i], p.intercepts[i]),
      label: `(${name})`,
    })),
  ];

  const decor = {
    id: "decor",
    afterDraw(chart: any) {
      const { ctx, chartArea: a } = chart;
      const xs = chart.scales.x;
      const ys = chart.scales.y;
      ctx.save();
      ctx.setLineDash([]);
      ctx.strokeStyle = "#000";
      ctx.lineWidth = 2;
      ctx.strokeRect(a.left, a.top, a.right - a.left, a.bottom - a.top);
      tickValues.forEach((v) => {
        const px = xs.getPixelForValue(v);
        ctx.beginPath();
        ctx.moveTo(px, a.bottom);
        ctx.lineTo(px, a.bottom - 8);
        ctx.stroke();
        const py = ys.getPixelForValue(v);
        ctx.beginPath();
        ctx.moveTo(a.left, py);
        ctx.lineTo(a.left + 8, py);
        ctx.stroke();
      });
      // title
      ctx.fillStyle = titleColor;
      ctx.font = `bold 27px ${FONT}`;
      ctx.textBaseline = "middle";
      ctx.textAlign = "left";
      ctx.fillText(p.title, p.titleX, 23);
      // legend
      entries.forEach((e, i) => {
        const y = a.top + 18.7 + i * 27.4;
        ctx.strokeStyle = e.color;
        ctx.lineWidth = 3.5;
        ctx.lineCap = "butt";
        ctx.setLineDash(e.dash);
        ctx.beginPath();
        ctx.moveTo(a.left + 15, y);
        ctx.lineTo(a.left + 51, y);
        ctx.stroke();
        ctx.setLineDash([]);
        ctx.fillStyle = "#000";
        ctx.font = `italic bold 20px ${FONT}`;
        try {
          (ctx as any).wordSpacing = "2.8px";
        } catch (err) {}
        ctx.fillText(e.eq, a.left + 65, y);
        try {
          (ctx as any).wordSpacing = "0px";
        } catch (err) {}
        ctx.font = `bold 19px ${FONT}`;
        ctx.fillText(e.label, a.left + 233, y);
      });
      ctx.restore();
    },
  };

  const filterTicks = (s: any) => {
    s.ticks = s.ticks.filter((t: any) => Math.abs(t.value % 10) < 1e-9);
  };

  return {
    type: "scatter",
    data: { datasets },
    plugins: [decor],
    options: {
      animation: false,
      responsive: false,
      maintainAspectRatio: false,
      devicePixelRatio: 1,
      events: [],
      layout: { padding: { left: 0, right: 25, top: 57, bottom: 0 } },
      plugins: {
        legend: { display: false },
        tooltip: { enabled: false },
        title: { display: false },
      },
      scales: {
        x: {
          type: "linear",
          position: "bottom",
          min: 0,
          max: axisMax,
          grid: { display: false, drawTicks: false },
          border: { display: false },
          ticks: {
            stepSize: 10,
            padding: 6,
            color: "#000",
            maxRotation: 0,
            autoSkip: false,
            font: { family: FONT, size: 21 },
          },
          title: {
            display: true,
            text: "Measured runoff (mm)",
            color: "#000",
            font: { family: FONT, size: 22 },
            padding: { top: 0, bottom: 0 },
          },
          afterBuildTicks: filterTicks,
          afterFit: (s: any) => {
            s.height = 62;
          },
        },
        y: {
          type: "linear",
          position: "left",
          min: 0,
          max: axisMax,
          grid: { display: false, drawTicks: false },
          border: { display: false },
          ticks: {
            stepSize: 10,
            padding: 10,
            color: "#000",
            autoSkip: false,
            font: { family: FONT, size: 21 },
          },
          title: {
            display: true,
            text: "Modeled runoff (mm)",
            color: "#000",
            font: { family: FONT, size: 22 },
            padding: { top: 9, bottom: 0 },
          },
          afterBuildTicks: filterTicks,
          afterFit: (s: any) => {
            s.width = 79;
          },
        },
      },
    },
  };
}

function Panel(props: PanelProps) {
  const ref = useRef<HTMLCanvasElement | null>(null);
  useEffect(() => {
    if (!ref.current) return;
    const chart = new Chart(ref.current, buildConfig(props));
    return () => chart.destroy();
  }, []);
  return (
    <canvas
      ref={ref}
      width={600}
      height={603}
      style={{ position: "absolute", left: props.left, top: 0, width: 600, height: 603 }}
    />
  );
}

export default function App() {
  return (
    <div
      style={{
        position: "absolute",
        left: 0,
        top: 0,
        width: 1206,
        height: 603,
        overflow: "hidden",
        background: "#fff",
      }}
    >
      <Panel
        left={0}
        title="(a) Calibration Period"
        titleX={89}
        measured={calMeasured}
        modeled={calModeled}
        slopes={calSlopes}
        intercepts={calIntercepts}
      />
      <Panel
        left={637}
        title="(b) Validation Period"
        titleX={83}
        measured={valMeasured}
        modeled={valModeled}
        slopes={valSlopes}
        intercepts={valIntercepts}
      />
    </div>
  );
}
